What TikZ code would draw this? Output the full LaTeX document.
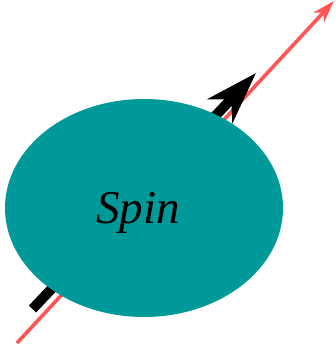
\documentclass[tikz,border=0pt]{standalone}
\usepackage{fontspec}
\setmainfont{Liberation Serif}
\usetikzlibrary{arrows.meta,shapes.geometric}

\definecolor{spinteal}{RGB}{0,153,153}
\definecolor{axisred}{RGB}{255,85,85}

\begin{document}
\begin{tikzpicture}[
			x=1pt, y=-1pt,
			spinbody/.style={
				ellipse, fill=spinteal,
				minimum width=278pt, minimum height=218pt,
				inner sep=0pt
			},
			spintext/.style={
				inner sep=0pt,
				font=\fontsize{47}{50}\selectfont\itshape
			},
			momentum/.style={-{Stealth[length=52pt,width=34pt,inset=16pt]}, line width=10pt, black},
			fieldaxis/.style={-{Stealth[length=22pt,width=14pt,inset=6pt]}, line width=3.6pt, axisred}
			]
			
			\useasboundingbox (0,0) rectangle (335,344);
			
			%% ── Axes behind the body ────────────────────────────────────────────
			\coordinate (redtail) at (17,343);
			\coordinate (redhead) at (334,1);
			\coordinate (spintail) at (32.5,309);
			\coordinate (spinhead) at (256,73);
			
			\draw[fieldaxis] (redtail) -- (redhead);
			\draw[momentum] (spintail) -- (spinhead);
			
			%% ── Spinning body ───────────────────────────────────────────────────
			\node[spinbody] (spin) at (144,208) {};
			\node[spintext] (spinlabel) at (138,213) {Spin};
			
		\end{tikzpicture}
\end{document}
